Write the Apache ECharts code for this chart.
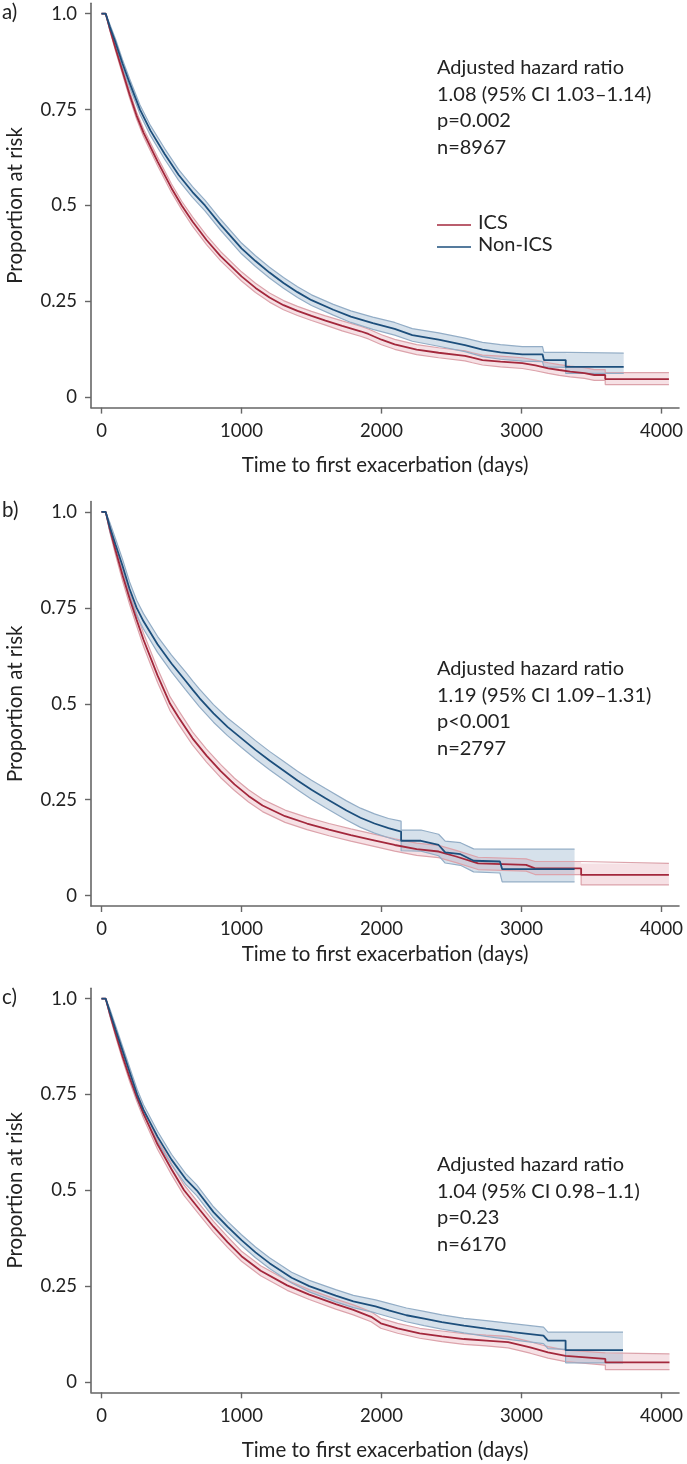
<!DOCTYPE html>
<html><head><meta charset="utf-8">
<script src="https://cdn.jsdelivr.net/npm/echarts@6/dist/echarts.min.js"></script>
<style>html,body{margin:0;padding:0;background:#fff}#c{width:687px;height:1464px}</style>
</head><body><div id="c"></div>
<script>
// ---------- tick labels / texts ----------
const xTicks = [0, 1000, 2000, 3000, 4000];
const xTickLabels = ['0', '1000', '2000', '3000', '4000'];
const yTicks = [0, 0.25, 0.5, 0.75, 1];
const yTickLabels = ['0', '0.25', '0.5', '0.75', '1.0'];
const panelLabels = ['a)', 'b)', 'c)'];
const xTitle = 'Time to first exacerbation (days)';
const yTitle = 'Proportion at risk';
const legendNames = ['ICS', 'Non-ICS'];
const annotA = ['Adjusted hazard ratio', '1.08 (95% CI 1.03\u20131.14)', 'p=0.002', 'n=8967'];
const annotB = ['Adjusted hazard ratio', '1.19 (95% CI 1.09\u20131.31)', 'p<0.001', 'n=2797'];
const annotC = ['Adjusted hazard ratio', '1.04 (95% CI 0.98\u20131.1)', 'p=0.23', 'n=6170'];

// ---------- panel a ----------
const aIcsT  = [0,30,60,100,150,200,250,300,400,500,573,650,750,850,1000,1100,1200,1300,1400,1500,1600,1719,1850,1906,2000,2094,2251,2408,2596,2650,2721,2850,3006,3100,3191,3270,3348,3450,3520,3598,3598,4053];
const aIcsS  = [1,1,0.96,0.91,0.85,0.79,0.735,0.69,0.615,0.545,0.5,0.458,0.41,0.368,0.315,0.285,0.26,0.24,0.225,0.212,0.2,0.186,0.172,0.165,0.15,0.138,0.124,0.116,0.108,0.103,0.097,0.093,0.089,0.083,0.0755,0.071,0.067,0.063,0.058,0.058,0.047,0.047];
const aIcsLo = [1,1,0.955,0.903,0.842,0.781,0.726,0.68,0.604,0.534,0.489,0.446,0.398,0.356,0.303,0.273,0.248,0.228,0.213,0.2,0.188,0.173,0.159,0.152,0.137,0.125,0.111,0.103,0.095,0.09,0.084,0.079,0.075,0.069,0.062,0.057,0.053,0.049,0.044,0.044,0.033,0.033];
const aIcsHi = [1,1,0.965,0.917,0.858,0.799,0.744,0.70,0.626,0.556,0.511,0.47,0.422,0.38,0.327,0.297,0.272,0.252,0.237,0.224,0.212,0.199,0.185,0.178,0.163,0.151,0.137,0.129,0.121,0.116,0.11,0.107,0.103,0.097,0.09,0.085,0.081,0.077,0.072,0.072,0.064,0.064];

const aNonT  = [0,30,60,100,150,200,275,350,450,550,650,739,850,1000,1100,1200,1300,1400,1500,1656,1781,1938,2094,2220,2408,2596,2721,2850,3006,3150,3160,3316,3316,3730];
const aNonS  = [1,1,0.965,0.925,0.87,0.82,0.75,0.695,0.635,0.58,0.535,0.5,0.45,0.388,0.355,0.325,0.298,0.274,0.253,0.228,0.21,0.193,0.178,0.162,0.15,0.136,0.124,0.117,0.112,0.112,0.097,0.097,0.079,0.079];
const aNonLo = [1,1,0.958,0.916,0.86,0.809,0.738,0.682,0.621,0.566,0.521,0.486,0.436,0.374,0.341,0.311,0.284,0.26,0.239,0.214,0.195,0.177,0.162,0.146,0.133,0.119,0.106,0.099,0.094,0.093,0.079,0.078,0.062,0.062];
const aNonHi = [1,1,0.972,0.934,0.88,0.831,0.762,0.708,0.649,0.594,0.549,0.514,0.464,0.402,0.369,0.339,0.312,0.288,0.267,0.242,0.225,0.209,0.195,0.179,0.168,0.154,0.143,0.137,0.132,0.132,0.117,0.117,0.115,0.115];

// ---------- panel b ----------
const bIcsT  = [0,30,60,100,150,200,250,300,400,490,550,650,750,850,950,1050,1150,1311,1468,1625,1781,1938,2094,2251,2408,2533,2690,3033,3097,3426,3426,4053];
const bIcsS  = [1,1,0.955,0.9,0.835,0.775,0.72,0.667,0.574,0.5,0.465,0.41,0.365,0.325,0.29,0.26,0.235,0.207,0.188,0.172,0.158,0.145,0.132,0.121,0.115,0.102,0.084,0.08,0.071,0.071,0.054,0.054];
const bIcsLo = [1,1,0.947,0.889,0.821,0.76,0.704,0.65,0.556,0.482,0.447,0.393,0.348,0.308,0.274,0.244,0.219,0.191,0.172,0.156,0.142,0.129,0.116,0.105,0.099,0.086,0.068,0.064,0.055,0.055,0.028,0.028];
const bIcsHi = [1,1,0.963,0.911,0.849,0.79,0.736,0.684,0.592,0.518,0.483,0.427,0.382,0.342,0.306,0.276,0.251,0.223,0.204,0.188,0.174,0.161,0.148,0.137,0.131,0.118,0.1,0.096,0.089,0.089,0.084,0.084];

const bNonT  = [0,30,60,100,150,200,251,300,400,500,600,655,700,800,900,1000,1100,1200,1300,1400,1500,1600,1750,1850,1950,2050,2140,2140,2282,2408,2455,2564,2658,2846,2862,3379];
const bNonS  = [1,1,0.96,0.915,0.86,0.8,0.75,0.715,0.655,0.605,0.56,0.535,0.515,0.475,0.44,0.41,0.38,0.352,0.326,0.3,0.276,0.254,0.222,0.203,0.188,0.176,0.167,0.143,0.143,0.132,0.113,0.108,0.091,0.089,0.069,0.069];
const bNonLo = [1,1,0.948,0.9,0.843,0.782,0.73,0.695,0.634,0.583,0.537,0.512,0.492,0.452,0.417,0.386,0.356,0.328,0.302,0.276,0.251,0.229,0.197,0.178,0.163,0.151,0.141,0.117,0.116,0.104,0.085,0.079,0.062,0.059,0.036,0.036];
const bNonHi = [1,1,0.972,0.93,0.877,0.818,0.77,0.735,0.676,0.627,0.583,0.558,0.538,0.498,0.463,0.434,0.404,0.376,0.35,0.324,0.301,0.279,0.247,0.228,0.213,0.201,0.194,0.171,0.171,0.16,0.142,0.138,0.122,0.121,0.121,0.121];

// ---------- panel c ----------
const cIcsT  = [0,30,60,100,150,200,250,300,400,500,590,700,800,900,1000,1137,1326,1484,1673,1799,1926,1995,2115,2273,2431,2589,2747,2904,3062,3189,3315,3599,3599,4057];
const cIcsS  = [1,1,0.96,0.91,0.85,0.795,0.745,0.7,0.62,0.555,0.5,0.45,0.405,0.365,0.328,0.29,0.252,0.228,0.203,0.188,0.17,0.153,0.14,0.127,0.119,0.112,0.108,0.104,0.09,0.077,0.068,0.06,0.051,0.051];
const cIcsLo = [1,1,0.954,0.902,0.841,0.785,0.734,0.688,0.607,0.541,0.486,0.436,0.391,0.351,0.315,0.277,0.239,0.215,0.19,0.175,0.157,0.14,0.127,0.114,0.105,0.098,0.094,0.089,0.075,0.062,0.053,0.044,0.032,0.032];
const cIcsHi = [1,1,0.966,0.918,0.859,0.805,0.756,0.712,0.633,0.569,0.514,0.464,0.419,0.379,0.341,0.303,0.265,0.241,0.216,0.201,0.183,0.166,0.153,0.14,0.133,0.126,0.122,0.119,0.105,0.092,0.083,0.076,0.073,0.073];

const cNonT  = [0,30,60,100,150,200,255,300,400,500,600,680,800,900,1000,1100,1200,1358,1484,1673,1799,1957,2052,2178,2305,2431,2589,2747,2936,3157,3189,3315,3315,3725];
const cNonS  = [1,1,0.965,0.92,0.865,0.81,0.75,0.71,0.64,0.58,0.53,0.5,0.443,0.405,0.37,0.338,0.31,0.272,0.25,0.225,0.21,0.197,0.187,0.174,0.165,0.156,0.147,0.139,0.13,0.121,0.108,0.108,0.083,0.083];
const cNonLo = [1,1,0.957,0.91,0.854,0.798,0.737,0.697,0.626,0.566,0.516,0.486,0.429,0.391,0.356,0.324,0.296,0.258,0.235,0.209,0.194,0.18,0.17,0.157,0.147,0.138,0.128,0.119,0.11,0.1,0.087,0.085,0.05,0.05];
const cNonHi = [1,1,0.973,0.93,0.876,0.822,0.763,0.723,0.654,0.594,0.544,0.514,0.457,0.419,0.384,0.352,0.324,0.286,0.265,0.241,0.226,0.214,0.205,0.193,0.184,0.175,0.166,0.16,0.152,0.143,0.13,0.13,0.13,0.13];

// ---------- styling / layout ----------
const FONT = 'Lato, "Noto Sans", sans-serif';
const TXT = '#222';
const AX = '#666';
const RED = '#a3283c', RED_EDGE = '#dca3ab', RED_FILL = 'rgba(214,120,135,0.22)';
const BLUE = '#1d4f7c', BLUE_EDGE = '#93adc6', BLUE_FILL = 'rgba(120,155,190,0.30)';

const layouts = [
  { top: 3.3,   height: 404.3, nameGap: 47, annotTop: 54,   annotLeft: 437 },
  { top: 501.6, height: 404.4, nameGap: 38, annotTop: 655,  annotLeft: 437 },
  { top: 988.3, height: 404.0, nameGap: 48, annotTop: 1151, annotLeft: 437 }
];
const yMin = -0.027, yMax = 1.027, xMin = -75, xMax = 4125;

const panels = [
  { ics: [aIcsT, aIcsS, aIcsLo, aIcsHi], non: [aNonT, aNonS, aNonLo, aNonHi], annot: annotA },
  { ics: [bIcsT, bIcsS, bIcsLo, bIcsHi], non: [bNonT, bNonS, bNonLo, bNonHi], annot: annotB },
  { ics: [cIcsT, cIcsS, cIcsLo, cIcsHi], non: [cNonT, cNonS, cNonLo, cNonHi], annot: annotC }
];

function zip(t, v) { return t.map((x, i) => [x, v[i]]); }
function pick(ticks, labels, v) {
  let k = 0; ticks.forEach((y, i) => { if (Math.abs(y - v) < 1e-6) k = i; });
  return labels[k];
}

function band(gi, t, lo, hi, fill, z) {
  return {
    type: 'custom', xAxisIndex: gi, yAxisIndex: gi, silent: true, z: z, clip: true,
    data: [[t[0], hi[0]]], encode: { x: 0, y: 1 },
    renderItem: function (params, api) {
      const pts = [];
      for (let i = 0; i < t.length; i++) pts.push(api.coord([t[i], hi[i]]));
      for (let i = t.length - 1; i >= 0; i--) pts.push(api.coord([t[i], lo[i]]));
      return { type: 'polygon', shape: { points: pts }, style: { fill: fill } };
    }
  };
}
function line(gi, name, t, v, color, width, z) {
  return {
    type: 'line', name: name, xAxisIndex: gi, yAxisIndex: gi, data: zip(t, v),
    symbol: 'none', showSymbol: false, silent: true, z: z, clip: true,
    lineStyle: { color: color, width: width }, itemStyle: { color: color }
  };
}

const grids = [], xAxes = [], yAxes = [], series = [], graphics = [];
panels.forEach((p, gi) => {
  const L = layouts[gi];
  grids.push({ left: 91, right: 8, top: L.top, height: L.height, containLabel: false, outerBoundsMode: 'none' });
  xAxes.push({
    gridIndex: gi, type: 'value', min: xMin, max: xMax,
    name: xTitle, nameLocation: 'middle', nameGap: L.nameGap,
    nameTextStyle: { fontSize: 20.5, color: TXT, fontFamily: FONT },
    axisLine: { show: true, onZero: false, lineStyle: { color: AX, width: 1.6 } },
    axisTick: { show: true, customValues: xTicks, length: 6, lineStyle: { color: AX, width: 1.4 } },
    axisLabel: { customValues: xTicks, margin: 14, fontSize: 18.5, color: TXT, fontFamily: FONT,
      formatter: function (v) { return pick(xTicks, xTickLabels, v); } },
    splitLine: { show: false }
  });
  yAxes.push({
    gridIndex: gi, type: 'value', min: yMin, max: yMax,
    name: yTitle, nameLocation: 'middle', nameGap: 65, nameRotate: 90,
    nameTextStyle: { fontSize: 20.5, color: TXT, fontFamily: FONT },
    axisLine: { show: true, onZero: false, lineStyle: { color: AX, width: 1.6 } },
    axisTick: { show: true, customValues: yTicks, length: 6, lineStyle: { color: AX, width: 1.4 } },
    axisLabel: { customValues: yTicks, margin: 14, fontSize: 18.5, color: TXT, fontFamily: FONT,
      formatter: function (v) { return pick(yTicks, yTickLabels, v); } },
    splitLine: { show: false }
  });
  const [ti, si, li, hi] = p.ics, [tn, sn, ln, hn] = p.non;
  series.push(band(gi, ti, li, hi, RED_FILL, 1));
  series.push(band(gi, tn, ln, hn, BLUE_FILL, 2));
  series.push(line(gi, 'ICS lower', ti, li, RED_EDGE, 1.2, 3));
  series.push(line(gi, 'ICS upper', ti, hi, RED_EDGE, 1.2, 3));
  series.push(line(gi, 'Non-ICS lower', tn, ln, BLUE_EDGE, 1.2, 3));
  series.push(line(gi, 'Non-ICS upper', tn, hn, BLUE_EDGE, 1.2, 3));
  series.push(line(gi, legendNames[0], ti, si, RED, 1.8, 5));
  series.push(line(gi, legendNames[1], tn, sn, BLUE, 1.8, 6));

  graphics.push({ type: 'text', left: 2, top: L.top + 10.4 - 12,
    style: { text: panelLabels[gi], fontSize: 20.5, fill: TXT, fontFamily: FONT } });
  graphics.push({ type: 'text', left: L.annotLeft, top: L.annotTop,
    style: { text: p.annot.join('\n'), fontSize: 20, lineHeight: 26.7, fill: TXT, fontFamily: FONT } });
});

// legend (panel a)
graphics.push({ type: 'line', shape: { x1: 437, y1: 225, x2: 471, y2: 225 }, style: { stroke: RED, lineWidth: 1.6 } });
graphics.push({ type: 'line', shape: { x1: 437, y1: 247, x2: 471, y2: 247 }, style: { stroke: BLUE, lineWidth: 1.6 } });
graphics.push({ type: 'text', left: 478, top: 213, style: { text: legendNames[0], fontSize: 20, fill: TXT, fontFamily: FONT } });
graphics.push({ type: 'text', left: 478, top: 235, style: { text: legendNames[1], fontSize: 20, fill: TXT, fontFamily: FONT } });

const chart = echarts.init(document.getElementById('c'), null, { renderer: 'canvas' });
chart.setOption({
  animation: false,
  backgroundColor: '#fff',
  grid: grids, xAxis: xAxes, yAxis: yAxes, series: series,
  graphic: graphics
});
</script></body></html>
